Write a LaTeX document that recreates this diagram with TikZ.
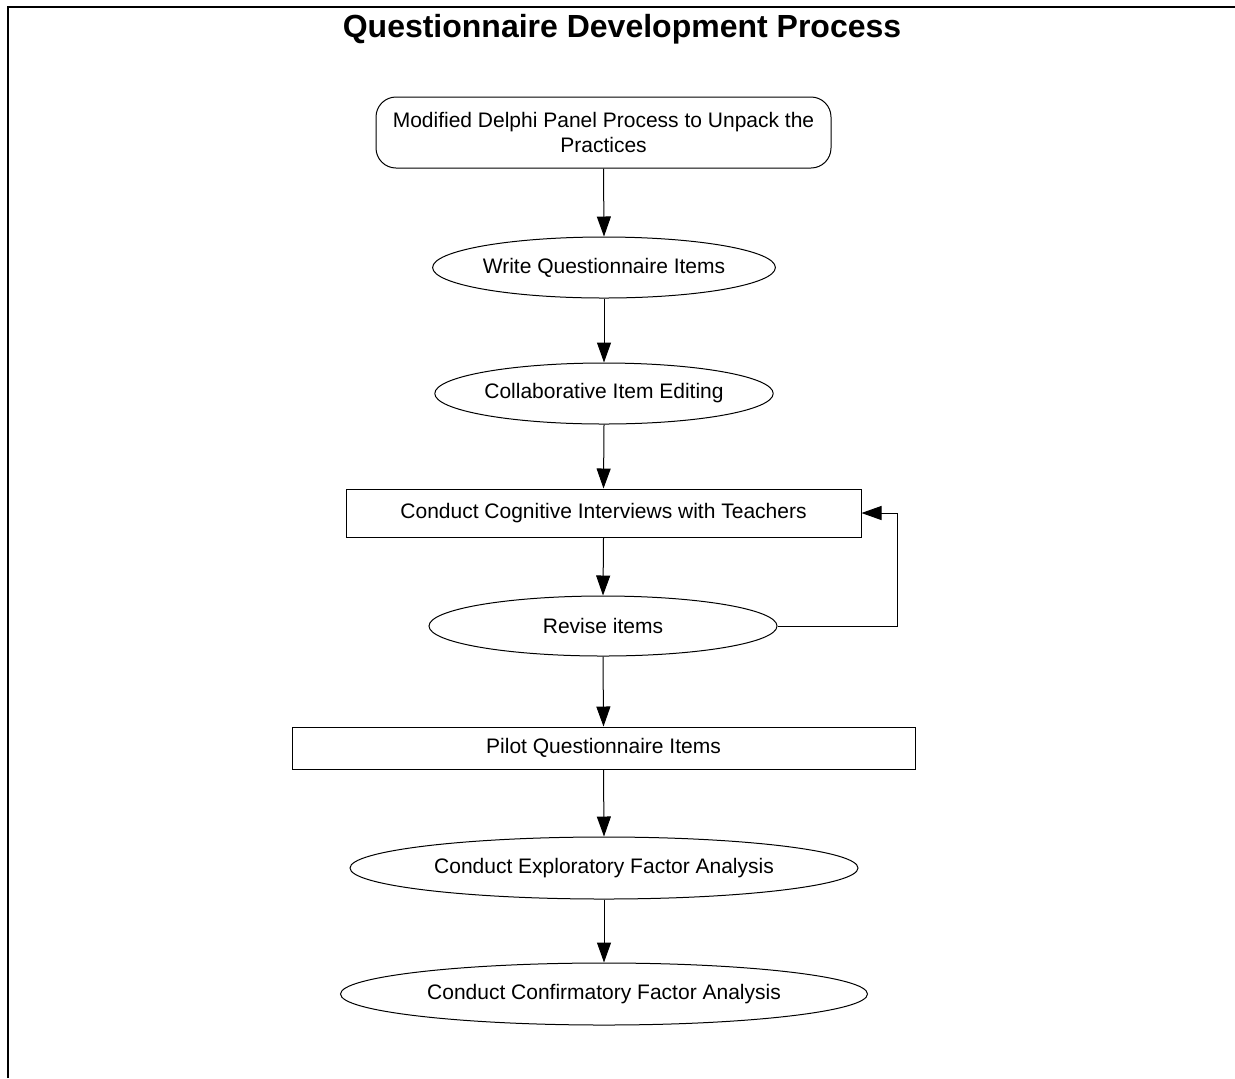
\documentclass[tikz,border=0pt]{standalone}
\usepackage{fontspec}
\setmainfont{Liberation Sans}
\usetikzlibrary{positioning, arrows.meta, shapes.geometric, shapes.misc}
\tikzset{
    txtfont/.style={font=\fontsize{10.5}{12.5}\selectfont},
    startbox/.style={rectangle, rounded corners=10pt, draw=black, line width=0.5pt, minimum width=227.5pt, minimum height=35.5pt, align=center, inner sep=0pt, txtfont},
    procbox/.style={rectangle, draw=black, line width=0.5pt, minimum width=#1, minimum height=24pt, align=center, inner sep=0pt, txtfont},
    procell/.style={ellipse, draw=black, line width=0.5pt, minimum width=#1, minimum height=30.5pt, align=center, inner sep=0pt, txtfont},
    arr/.style={-{Triangle[length=10pt, width=7pt]}, line width=0.5pt, color=black},
    framelin/.style={line width=1pt, color=black}
}

\begin{document}
\begin{tikzpicture}[x=0.5pt, y=-0.5pt]
        \useasboundingbox (0,0) rectangle (1235,1078);
        % === Frame and title ===
        \draw[framelin] (8,1078) -- (8,7) -- (1235,7);
        \node[font=\fontsize{16}{19}\selectfont\bfseries] (title) at (622,29) {Questionnaire Development Process};

        % === Process steps ===
        \node[startbox] (delphi) at (603.5,132.5) {Modified Delphi Panel Process to Unpack the\\Practices};
        \node[procell=169pt] (write) at (604,267.5) {Write Questionnaire Items};
        \node[procell=169pt] (collab) at (604,393.5) {Collaborative Item Editing};
        \node[procbox=257.5pt] (interview) at (603.5,513) {Conduct Cognitive Interviews with Teachers};
        \node[procell=174pt, minimum height=30pt] (revise) at (603,626) {Revise items};
        \node[procbox=311.5pt, minimum height=21pt] (pilot) at (603.5,748) {Pilot Questionnaire Items};
        \node[procell=254pt, minimum height=31pt] (efa) at (604,868) {Conduct Exploratory Factor Analysis};
        \node[procell=263.5pt, minimum height=31pt] (cfa) at (604,994) {Conduct Confirmatory Factor Analysis};

        % === Connectors ===
        \draw[arr] (delphi.south) -- (write.north);
        \draw[arr] (write.south) -- (collab.north);
        \draw[arr] (collab.south) -- (interview.north);
        \draw[arr] (interview.south) -- (revise.north);
        \draw[arr] (revise.south) -- (pilot.north);
        \draw[arr] (pilot.south) -- (efa.north);
        \draw[arr] (efa.south) -- (cfa.north);
        % feedback loop back to interviews
        \coordinate (loopc) at (897,626);
        \draw[arr] (revise.east) -- (loopc) |- (interview.east);
    \end{tikzpicture}
\end{document}
